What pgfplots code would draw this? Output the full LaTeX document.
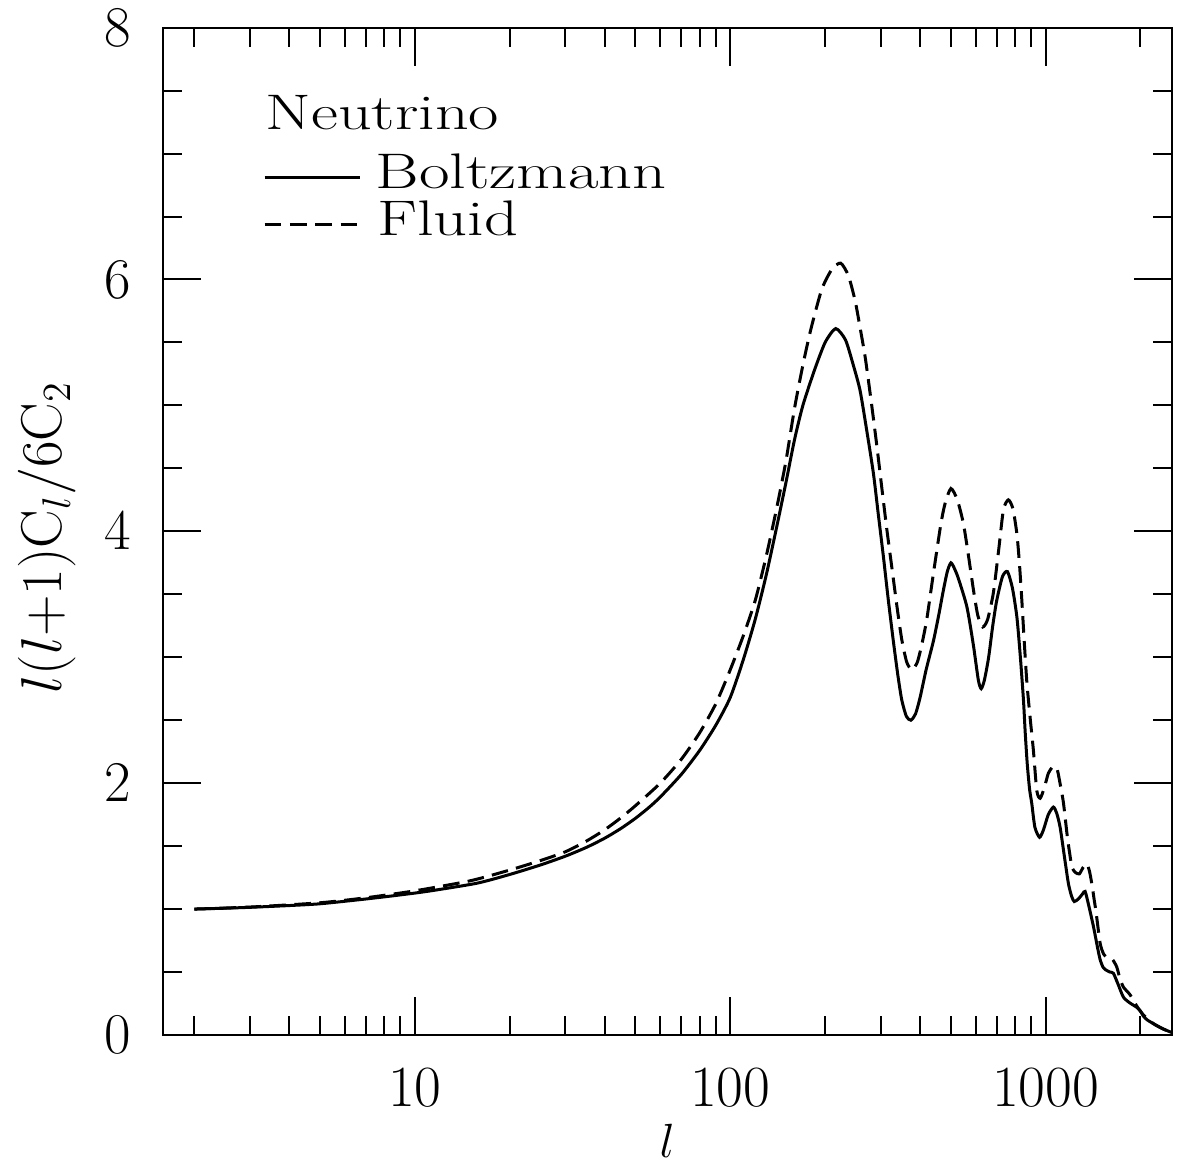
\documentclass[border=0pt]{standalone}
\usepackage{graphicx}
\usepackage{pgfplots}
\usepackage{pgfplotstable}
\pgfplotsset{compat=1.18}

\pgfplotstableread{
l y
2 1.000
2.5 1.007
3 1.014
4 1.028
5 1.042
6.7 1.075
8.5 1.105
10.9 1.140
15.7 1.205
20 1.275
25 1.35
30 1.42
35 1.49
40 1.563
45 1.64
50 1.72
55 1.803
60 1.89
70 2.07
80 2.26
90 2.46
100 2.68
110 2.98
120 3.30
130 3.65
140 4.02
150 4.38
160 4.73
170 5.00
185 5.28
200 5.50
216 5.61
232 5.52
245 5.33
258 5.12
271 4.80
284.5 4.46
295 4.13
306 3.80
317 3.46
329 3.13
340 2.86
350 2.66
362 2.53
374 2.50
387 2.55
400 2.68
418 2.90
441 3.13
458 3.33
474 3.53
488 3.68
501 3.75
515 3.70
530 3.62
563 3.40
590 3.10
612 2.82
625 2.75
640 2.82
660 3.00
680 3.25
700 3.45
730 3.64
757 3.68
785 3.55
811 3.32
832 3.00
851 2.66
862 2.40
875 2.15
890 1.95
904 1.84
925 1.65
957 1.57
985 1.63
1020 1.75
1059 1.81
1085 1.76
1112 1.65
1150 1.40
1182 1.20
1210 1.10
1233 1.06
1270 1.08
1310 1.12
1335 1.14
1370 1.03
1419 0.86
1460 0.70
1489 0.60
1520 0.54
1545 0.52
1600 0.50
1641 0.49
1700 0.40
1766 0.30
1850 0.255
1946 0.22
2000 0.19
2042 0.15
2100 0.12
2198 0.09
2350 0.05
2512 0.02
}\boltz

\pgfplotstableread{
l y
2 1.000
3 1.016
5 1.05
7 1.09
10 1.145
15 1.225
20 1.31
25 1.385
30 1.455
35 1.54
40 1.63
45 1.725
50 1.82
60 2.00
70 2.19
80 2.40
90 2.63
100 2.90
110 3.17
120 3.45
130 3.80
140 4.17
150 4.55
160 4.98
170 5.32
180 5.60
195 5.92
210 6.08
224 6.13
237 6.03
249 5.83
258 5.62
268 5.38
280 5.03
292 4.67
303 4.33
314 4.01
326 3.70
338 3.40
350 3.14
363 2.96
377 2.90
392 2.96
405 3.10
420 3.30
440 3.65
465 4.05
480 4.22
501 4.34
525 4.25
549 4.06
570 3.80
591 3.53
610 3.33
632 3.24
655 3.30
683 3.51
710 3.85
735 4.17
762 4.25
788 4.18
811 3.98
826 3.75
841 3.45
857 3.10
873 2.79
895 2.50
915 2.26
938 1.94
961 1.88
990 1.96
1021 2.08
1055 2.13
1086 2.12
1115 1.98
1140 1.84
1173 1.57
1211 1.34
1245 1.29
1280 1.28
1315 1.33
1351 1.36
1378 1.30
1402 1.20
1425 1.08
1447 0.97
1489 0.73
1530 0.64
1581 0.61
1630 0.60
1682 0.54
1720 0.45
1766 0.38
1853 0.32
1946 0.23
2042 0.16
2198 0.09
2350 0.05
2512 0.02
}\fluid

\begin{document}
\begin{tikzpicture}
\useasboundingbox (-48.78pt,-40.8pt) rectangle (305.52pt,310.5pt);
\begin{axis}[
  at={(0pt,0pt)}, anchor=south west,
  scale only axis, width=302.73pt, height=302.22pt,
  xmode=log, xmin=1.58489, xmax=2511.886,
  ymin=0, ymax=8,
  xtick={10,100,1000}, xticklabels={10,100,1000},
  minor xtick={2,3,4,5,6,7,8,9,20,30,40,50,60,70,80,90,200,300,400,500,600,700,800,900,2000},
  ytick={0,2,4,6,8}, minor ytick={0.5,1,1.5,2.5,3,3.5,4.5,5,5.5,6.5,7,7.5},
  tick align=inside, xtick pos=both, ytick pos=both,
  major tick length=11.4pt, minor tick length=5.7pt,
  every tick/.style={black, line width=0.6pt},
  axis line style={line width=0.6pt},
  xticklabel style={font=\fontsize{17.5}{20}\selectfont, anchor=north, inner sep=0pt, yshift=-9.8pt},
  yticklabel style={font=\fontsize{17.5}{20}\selectfont, anchor=east, inner sep=0pt, xshift=-9.4pt},
  xlabel={$l$}, ylabel={$l(l{+}1)\mathrm{C}_l/6\mathrm{C}_2$},
  every axis x label/.style={at={(axis description cs:0.5,-0.105)}, anchor=center, inner sep=0pt, font=\fontsize{15.5}{18}\selectfont},
  every axis y label/.style={at={(axis description cs:-0.1146,0.494)}, rotate=90, anchor=center, font=\fontsize{17.5}{20}\selectfont},
]
\addplot[black, line width=0.9pt, smooth, tension=0.4] table[x=l, y=y] {\boltz};
\addplot[black, line width=0.9pt, smooth, tension=0.4, dash pattern=on 5pt off 2.5pt] table[x=l, y=y] {\fluid};
\end{axis}
\node[anchor=base west, inner sep=0pt] at (30.7pt,271.7pt) {\scalebox{1.32}[1]{\fontsize{15}{18}\selectfont Neutrino}};
\draw[black, line width=0.9pt] (30.6pt,257.1pt) -- (59.2pt,257.1pt);
\node[anchor=base west, inner sep=0pt] at (63.7pt,253.9pt) {\scalebox{1.33}[1]{\fontsize{15}{18}\selectfont Boltzmann}};
\draw[black, line width=0.9pt, dash pattern=on 5pt off 2.6pt] (30.6pt,243.1pt) -- (59.7pt,243.1pt);
\node[anchor=base west, inner sep=0pt] at (64.2pt,239.7pt) {\scalebox{1.33}[1]{\fontsize{15}{18}\selectfont Fluid}};
\end{tikzpicture}
\end{document}
